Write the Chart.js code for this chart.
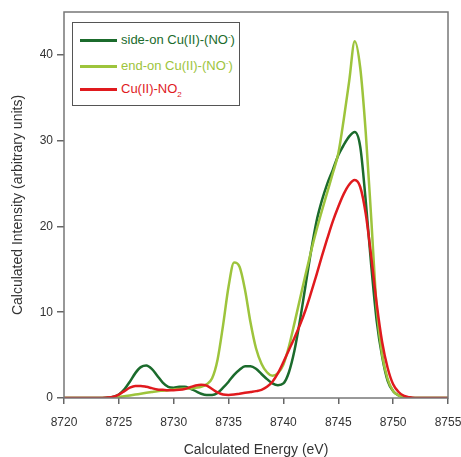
<!DOCTYPE html>
<html>
<head>
<meta charset="utf-8">
<script src="https://cdn.jsdelivr.net/npm/chart.js@4"></script>
<style>
    html, body { margin: 0; padding: 0; background: #fff; }
    #wrap { position: relative; width: 461px; height: 457px; }
    #legendBox {
        position: absolute; left: 72px; top: 22px; width: 168px; height: 84px;
        border: 1.5px solid #555; box-sizing: border-box; background: #fff;
        font-family: 'Liberation Sans', Arial, sans-serif; font-size: 13px;
    }
    .item { position: absolute; left: 7px; height: 14px; line-height: 14px; white-space: nowrap; }
    .item span.sw { display: inline-block; width: 37px; height: 2.5px; vertical-align: middle; margin-right: 4px; }
    sup, sub { font-size: 8px; line-height: 0; }
</style>
</head>
<body>
<div id="wrap">
    <canvas id="xasChart" width="461" height="457"></canvas>
    <div id="legendBox">
        <div class="item" style="top:10px; color:#1b6b2c"><span class="sw" style="background:#1b6b2c"></span>side-on Cu(II)-(NO<sup>-</sup>)</div>
        <div class="item" style="top:36px; color:#9dc43c"><span class="sw" style="background:#9dc43c"></span>end-on Cu(II)-(NO<sup>-</sup>)</div>
        <div class="item" style="top:59px; color:#e01a1e"><span class="sw" style="background:#e01a1e"></span>Cu(II)-NO<sub>2</sub></div>
    </div>
</div>
<script>
// Calculated Cu K-edge spectra, energy grid in eV
const energy = [
    8720, 8720.5, 8721, 8721.5, 8722, 8722.5, 8723, 8723.5, 8724, 8724.5,
    8725, 8725.5, 8726, 8726.5, 8727, 8727.5, 8728, 8728.5, 8729, 8729.5,
    8730, 8730.5, 8731, 8731.5, 8732, 8732.5, 8733, 8733.5, 8734, 8734.5,
    8735, 8735.5, 8736, 8736.5, 8737, 8737.5, 8738, 8738.5, 8739, 8739.5,
    8740, 8740.5, 8741, 8741.5, 8742, 8742.5, 8743, 8743.5, 8744, 8744.5,
    8745, 8745.5, 8746, 8746.5, 8747, 8747.5, 8748, 8748.5, 8749, 8749.5,
    8750, 8750.5, 8751, 8751.5, 8752, 8752.5, 8753, 8753.5, 8754, 8754.5,
    8755
];

const sideOn = [
    0, 0, 0, 0, 0, 0, 0, 0.01, 0.05, 0.15,
    0.4, 1.0, 1.9, 2.9, 3.6, 3.8, 3.4, 2.6, 1.8, 1.3,
    1.2, 1.3, 1.3, 1.1, 0.8, 0.5, 0.35, 0.35, 0.6, 1.2,
    1.9, 2.7, 3.3, 3.7, 3.7, 3.4, 2.8, 2.2, 1.7, 1.5,
    1.7, 3.0, 5.5, 9.0, 13.0, 17.0, 20.5, 23.0, 25.0, 26.6,
    28.3, 29.5, 30.5, 31.0, 29.3, 23.0, 15.5, 9.0, 4.8, 2.0,
    0.8, 0.3, 0.1, 0.03, 0, 0, 0, 0, 0, 0,
    0
];

const endOn = [
    0, 0, 0, 0, 0, 0, 0, 0, 0, 0.03,
    0.1, 0.2, 0.3, 0.4, 0.5, 0.6, 0.7, 0.8, 0.85, 0.9,
    1.0, 1.05, 1.1, 1.1, 1.2, 1.3, 1.6, 2.3, 4.5, 8.5,
    13.0, 15.8, 15.3, 12.6, 8.8, 5.8, 4.0, 3.0, 2.6, 2.9,
    3.9, 6.0, 8.7, 11.5, 14.3, 17.0, 19.5, 21.8, 24.0, 26.2,
    28.5, 32.5, 37.0, 41.6, 38.5, 31.0, 21.0, 10.5, 5.0, 2.2,
    0.8, 0.3, 0.1, 0.02, 0, 0, 0, 0, 0, 0,
    0
];

const cuNO2 = [
    0, 0, 0, 0, 0, 0, 0, 0.01, 0.05, 0.15,
    0.4, 0.8, 1.2, 1.4, 1.4, 1.3, 1.15, 1.0, 0.95, 0.9,
    0.9, 0.95, 1.05, 1.25, 1.45, 1.55, 1.45, 1.05, 0.65, 0.4,
    0.35, 0.4, 0.5, 0.6, 0.7, 0.8, 0.95, 1.3, 1.9, 2.9,
    4.2, 5.6, 7.0, 8.5, 10.2, 12.2, 14.3, 16.5, 18.6, 20.6,
    22.3, 23.8, 24.9, 25.4, 24.6, 21.5, 16.5, 11.0, 6.5, 3.5,
    1.6, 0.7, 0.25, 0.08, 0, 0, 0, 0, 0, 0,
    0
];

const xTicks = [8720, 8725, 8730, 8735, 8740, 8745, 8750, 8755];
const yTicks = [0, 10, 20, 30, 40];

const toPoints = (vals) => vals.map((v, i) => ({ x: energy[i], y: v }));

// frame round the plot area
const frame = {
    id: 'frame',
    afterDraw(chart) {
        const { ctx, chartArea: a } = chart;
        ctx.save();
        ctx.strokeStyle = '#777';
        ctx.lineWidth = 1.5;
        ctx.strokeRect(a.left, a.top, a.right - a.left, a.bottom - a.top);
        ctx.restore();
    }
};

document.addEventListener('DOMContentLoaded', () => {
    const ctx = document.getElementById('xasChart');
    new Chart(ctx, {
        type: 'line',
        data: {
            datasets: [{
                label: 'Cu(II)-NO2',
                data: toPoints(cuNO2),
                borderColor: '#e01a1e',
                order: 0
            }, {
                label: 'end-on Cu(II)-(NO-)',
                data: toPoints(endOn),
                borderColor: '#9dc43c',
                order: 1
            }, {
                label: 'side-on Cu(II)-(NO-)',
                data: toPoints(sideOn),
                borderColor: '#1b6b2c',
                order: 2
            }]
        },
        options: {
            responsive: false,
            animation: false,
            layout: { padding: { top: 12, right: 13, left: 0, bottom: 0 } },
            elements: {
                point: { radius: 0 },
                line: { borderWidth: 2.5, cubicInterpolationMode: 'monotone' }
            },
            plugins: {
                legend: { display: false },
                tooltip: { enabled: false }
            },
            scales: {
                x: {
                    type: 'linear',
                    min: 8720,
                    max: 8755,
                    afterBuildTicks: (s) => { s.ticks = xTicks.map(v => ({ value: v })); },
                    afterFit: (s) => { s.height = 59; s.paddingLeft = 0; s.paddingRight = 0; },
                    border: { display: false },
                    grid: { drawOnChartArea: false, tickLength: 6, color: '#666', lineWidth: 1.5 },
                    ticks: {
                        color: '#333',
                        padding: 11,
                        maxRotation: 0,
                        callback: (v) => String(v),
                        font: { family: "'Liberation Sans', Arial, sans-serif", size: 12 }
                    },
                    title: {
                        display: true,
                        text: 'Calculated Energy (eV)',
                        color: '#333',
                        padding: { top: 4, bottom: -1.5 },
                        font: { family: "'Liberation Sans', Arial, sans-serif", size: 14 }
                    }
                },
                y: {
                    min: 0,
                    max: 45,
                    afterBuildTicks: (s) => { s.ticks = yTicks.map(v => ({ value: v })); },
                    afterFit: (s) => { s.width = 64; },
                    border: { display: false },
                    grid: { drawOnChartArea: false, tickLength: 7, color: '#666', lineWidth: 1.5 },
                    ticks: {
                        color: '#333',
                        padding: 4,
                        font: { family: "'Liberation Sans', Arial, sans-serif", size: 12 }
                    },
                    title: {
                        display: true,
                        text: 'Calculated Intensity (arbitrary units)',
                        color: '#333',
                        padding: { top: 10, bottom: 4 },
                        font: { family: "'Liberation Sans', Arial, sans-serif", size: 14 }
                    }
                }
            }
        },
        plugins: [frame]
    });
});
</script>
</body>
</html>
